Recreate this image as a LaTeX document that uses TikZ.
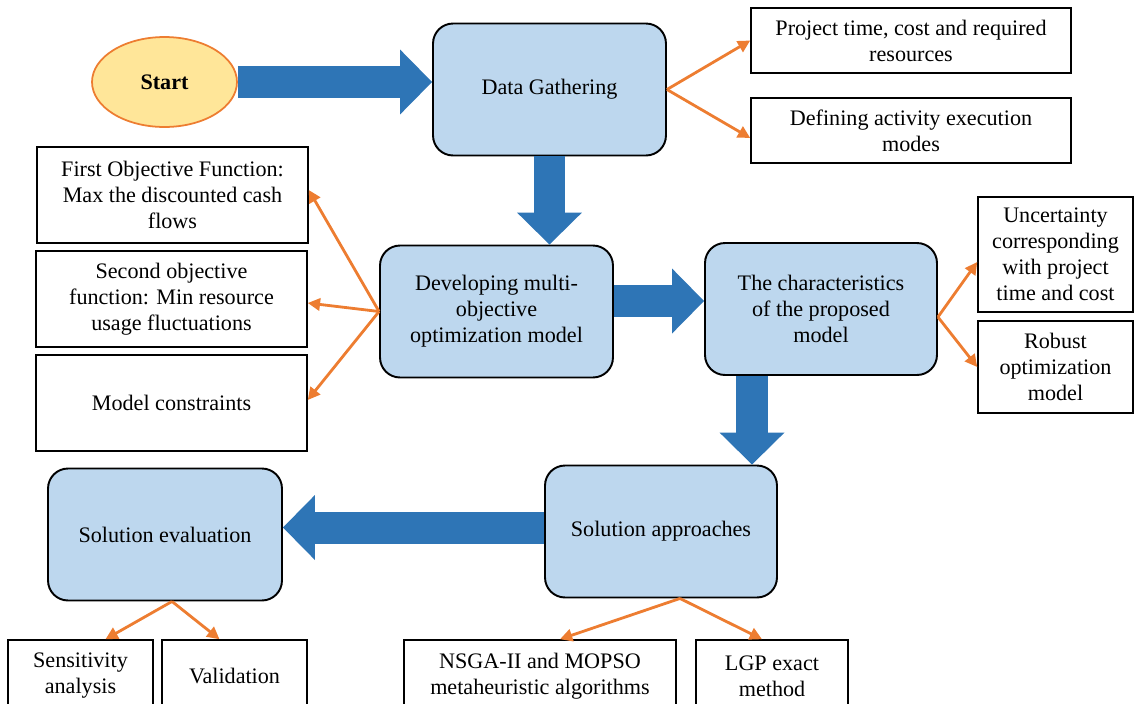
\documentclass[tikz,border=0pt]{standalone}
\usepackage{fontspec}
\setmainfont{Liberation Serif}
\usetikzlibrary{shapes.geometric,arrows.meta}
\definecolor{boxblue}{HTML}{BDD7EE}
\definecolor{arrowblue}{HTML}{2E75B6}
\definecolor{linkorange}{HTML}{ED7D31}
\definecolor{startyellow}{HTML}{FFE699}
\tikzset{
  txt/.style={font=\fontsize{12.6pt}{14.8pt}\selectfont},
  roundbox/.style={txt,draw=black,line width=1.1pt,fill=boxblue,rounded corners=0.4cm,
    minimum width=4.66cm,minimum height=2.64cm,inner sep=0pt,align=center},
  plainbox/.style={txt,draw=black,line width=0.9pt,fill=white,inner sep=0pt,align=center},
  bigarrow/.style={arrowblue,line width=0.64cm,-{Triangle[length=0.64cm,width=1.3cm,line width=0pt]}},
  linkarrow/.style={linkorange,line width=1.6pt,-{Triangle[length=7pt,width=7pt]}}
}
\begin{document}
\begin{tikzpicture}[x=0.02cm,y=-0.02cm]
\useasboundingbox (0,0) rectangle (1134,704);
\clip (0,0) rectangle (1134,704);

\node[ellipse,draw=linkorange,line width=1pt,fill=startyellow,inner sep=0pt,
  minimum width=2.9cm,minimum height=1.8cm,font=\fontsize{12.6pt}{14.8pt}\selectfont\bfseries]
  (start) at (164.5,82) {Start};
\node[roundbox] (data) at (549.5,89.5) {Data Gathering};
\node[plainbox,minimum width=6.4cm,minimum height=1.3cm] (time) at (911,40.5)
  {Project time, cost and required\\resources};
\node[plainbox,minimum width=6.4cm,minimum height=1.3cm] (modes) at (911,130.5)
  {Defining activity execution\\modes};

\node[roundbox] (dev) at (496.5,311.5) {Developing multi-\\objective\\optimization model};
\node[plainbox,minimum width=5.42cm,minimum height=1.92cm] (obj1) at (172.5,195)
  {First Objective Function:\\Max the discounted cash\\flows};
\node[plainbox,minimum width=5.42cm,minimum height=1.92cm] (obj2) at (171.5,299)
  {Second objective\\function: Min resource\\usage fluctuations};
\node[plainbox,minimum width=5.42cm,minimum height=1.92cm] (cons) at (171.5,403)
  {Model constraints};

\node[roundbox,minimum width=4.64cm] (char) at (821,309) {The characteristics\\of the proposed\\model};
\node[plainbox,minimum width=3.1cm,minimum height=2.3cm] (unc) at (1055.5,254.5)
  {Uncertainty\\corresponding\\with project\\time and cost};
\node[plainbox,minimum width=3.1cm,minimum height=1.84cm] (rob) at (1055.5,367)
  {Robust\\optimization\\model};

\node[roundbox,minimum width=4.64cm] (sol) at (661,531.5) {Solution approaches};
\node[roundbox,minimum width=4.68cm] (eval) at (165,534.5) {Solution evaluation};
\node[plainbox,minimum width=2.9cm,minimum height=1.44cm] (sens) at (80.5,676)
  {Sensitivity\\analysis};
\node[plainbox,minimum width=2.9cm,minimum height=1.44cm] (valid) at (234.5,676)
  {Validation};
\node[plainbox,minimum width=5.44cm,minimum height=1.44cm] (nsga) at (540,676)
  {NSGA-II and MOPSO\\metaheuristic algorithms};
\node[plainbox,minimum width=3.04cm,minimum height=1.44cm] (lgp) at (772,676)
  {LGP exact\\method};

\draw[bigarrow] (start.east) -- (start.east -| data.west);
\draw[bigarrow] (data.south) -- (data.south |- dev.north);
\draw[bigarrow] ([yshift=0.21cm]dev.east) -- ([yshift=0.21cm]dev.east -| char.west);
\draw[bigarrow] ([xshift=-1.38cm]char.south) -- ([xshift=-1.38cm]char.south |- sol.north);
\draw[bigarrow] ([yshift=0.08cm]sol.west) -- ([yshift=0.08cm]sol.west -| eval.east);

\draw[linkarrow] (data.east) -- (time.west);
\draw[linkarrow] (data.east) -- ([yshift=-0.15cm]modes.west);
\draw[linkarrow] (dev.west) -- ([yshift=0.1cm]obj1.east);
\draw[linkarrow] (dev.west) -- ([yshift=-0.08cm]obj2.east);
\draw[linkarrow] (dev.west) -- ([yshift=0.06cm]cons.east);
\draw[linkarrow] ([yshift=-0.16cm]char.east) -- ([yshift=-0.15cm]unc.west);
\draw[linkarrow] ([yshift=-0.16cm]char.east) -- (rob.west);
\draw[linkarrow] ([xshift=0.14cm]eval.south) -- ([xshift=0.5cm]sens.north);
\draw[linkarrow] ([xshift=0.14cm]eval.south) -- ([xshift=-0.3cm]valid.north);
\draw[linkarrow] ([xshift=0.38cm]sol.south) -- ([xshift=0.4cm]nsga.north);
\draw[linkarrow] ([xshift=0.38cm]sol.south) -- ([xshift=-0.2cm]lgp.north);
\end{tikzpicture}
\end{document}
